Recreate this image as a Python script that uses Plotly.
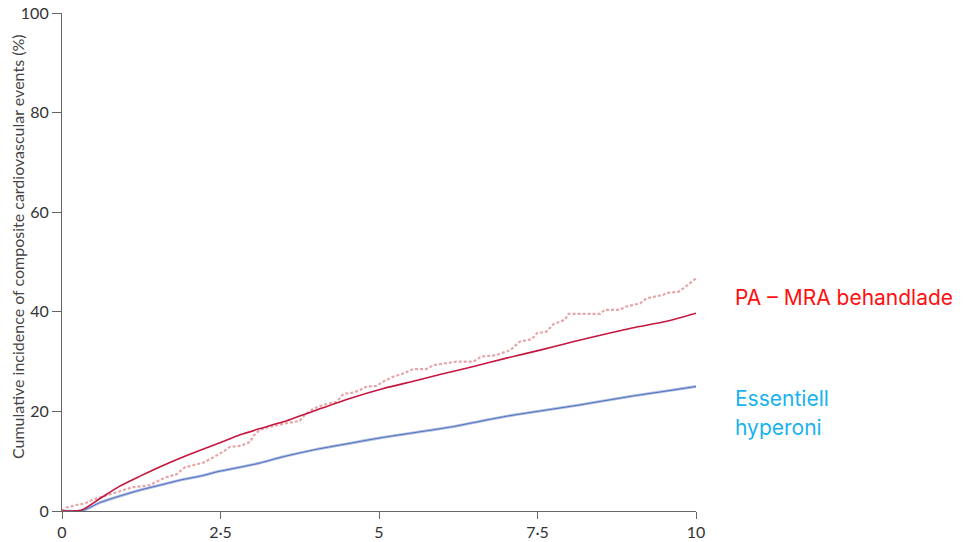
import plotly.graph_objects as go

# Years of follow-up and cumulative incidence (%) for each curve
pa_years = [0, 0.31, 0.6, 0.91, 1.23, 1.55, 1.86, 2.18, 2.49, 2.81, 3.11, 3.49, 4.02,
            4.54, 5.07, 5.59, 5.96, 6.49, 7.01, 7.54, 8.06, 8.59, 9.01, 9.54, 10.0]
pa_incidence = [0, 0.2, 2.5, 5.0, 7.0, 8.9, 10.6, 12.2, 13.7, 15.3, 16.5, 17.9, 20.3,
                22.6, 24.6, 26.2, 27.4, 29.0, 30.7, 32.3, 34.0, 35.6, 36.8, 38.1, 39.7]

eh_years = [0, 0.31, 0.6, 0.91, 1.23, 1.55, 1.86, 2.18, 2.49, 2.81, 3.11, 3.49, 4.02,
            4.54, 5.07, 5.59, 6.1, 7.0, 7.5, 8.17, 8.49, 9.01, 9.54, 10.0]
eh_incidence = [0, 0.0, 1.7, 3.0, 4.2, 5.2, 6.2, 7.0, 8.0, 8.8, 9.6, 10.9, 12.4,
                13.6, 14.8, 15.8, 16.8, 19.0, 20.0, 21.3, 22.0, 23.1, 24.1, 25.0]

km_years = [0, 0.07, 0.23, 0.36, 0.49, 0.65, 0.81, 0.97, 1.12, 1.28, 1.39, 1.49, 1.65,
            1.81, 1.94, 2.07, 2.23, 2.39, 2.54, 2.65, 2.83, 2.97, 3.02, 3.12, 3.28,
            3.49, 3.75, 3.83, 3.96, 4.12, 4.33, 4.44, 4.6, 4.7, 4.81, 4.96, 5.07,
            5.23, 5.38, 5.54, 5.75, 5.86, 5.96, 6.22, 6.49, 6.61, 6.85, 7.07, 7.22,
            7.41, 7.49, 7.64, 7.75, 7.93, 7.99, 8.49, 8.56, 8.8, 8.88, 9.12, 9.22,
            9.48, 9.54, 9.72, 9.8, 9.9, 10.0]
km_incidence = [0, 0.7, 1.2, 1.5, 2.3, 2.9, 3.6, 4.2, 4.8, 5.0, 5.2, 5.9, 6.8,
                7.4, 8.8, 9.2, 9.7, 10.8, 11.9, 12.9, 13.1, 13.9, 15.1, 16.3, 16.9,
                17.5, 18.1, 19.3, 20.5, 21.3, 21.9, 23.5, 23.8, 24.3, 25.0, 25.1, 26.0,
                27.0, 27.6, 28.5, 28.5, 29.3, 29.5, 30.0, 30.0, 31.0, 31.3, 32.3, 34.0,
                34.5, 35.7, 36.0, 37.5, 38.4, 39.6, 39.6, 40.4, 40.4, 41.0, 41.7, 42.7,
                43.4, 43.8, 44.0, 44.7, 45.7, 46.7]

x_ticks = [0, 2.5, 5, 7.5, 10]
x_tick_labels = ["0", "2·5", "5", "7·5", "10"]
y_ticks = [0, 20, 40, 60, 80, 100]

fig = go.Figure()

# Essential hypertension: soft blue halo with a darker core
fig.add_trace(go.Scatter(x=eh_years, y=eh_incidence, mode="lines",
                         line=dict(color="rgba(150,172,225,0.8)", width=2.8, shape="spline",
                                   smoothing=0.6),
                         hoverinfo="skip", showlegend=False))
fig.add_trace(go.Scatter(x=eh_years, y=eh_incidence, mode="lines",
                         line=dict(color="#5470b8", width=1.0, shape="spline", smoothing=0.6),
                         showlegend=False))

# Observed step curve, dotted
fig.add_trace(go.Scatter(x=km_years, y=km_incidence, mode="lines",
                         line=dict(color="#e8a5a8", width=2.2, dash="3px,2px"),
                         showlegend=False))

# PA treated with MRA
fig.add_trace(go.Scatter(x=pa_years, y=pa_incidence, mode="lines",
                         line=dict(color="#c5163f", width=1.6, shape="spline", smoothing=0.6),
                         showlegend=False))

axis_font = dict(family="Lato, 'Open Sans', sans-serif", size=16, color="#333333")

fig.update_layout(
    width=969, height=542,
    margin=dict(l=62, r=273, t=13, b=31),
    paper_bgcolor="white", plot_bgcolor="white",
    font=axis_font,
    xaxis=dict(range=[0, 10], tickvals=x_ticks, ticktext=x_tick_labels,
               showgrid=False, zeroline=False, showline=True, automargin=False,
               linecolor="#666666", linewidth=1.2,
               ticks="outside", ticklen=7, tickcolor="#666666", tickwidth=1.2,
               tickfont=axis_font),
    yaxis=dict(range=[0, 100], tickvals=y_ticks,
               showgrid=False, zeroline=False, showline=True, automargin=False,
               linecolor="#666666", linewidth=1.2,
               ticks="outside", ticklen=9, tickcolor="#666666", tickwidth=1.2,
               tickfont=axis_font),
)

# Vertical y-axis title
fig.add_annotation(xref="paper", yref="paper", x=-0.071, y=0.532,
                   xanchor="center", yanchor="middle", showarrow=False, textangle=-90,
                   text="Cumulative incidence of composite cardiovascular events (%)",
                   font=dict(family="Lato, 'Open Sans', sans-serif", size=16,
                             color="#444444"))

# Curve labels on the right
label_font = "Inter, 'Noto Sans', sans-serif"
fig.add_annotation(xref="paper", yref="paper", x=1.058, y=0.428,
                   xanchor="left", yanchor="middle", showarrow=False,
                   text="PA – MRA behandlade",
                   font=dict(family=label_font, size=21, color="#ff1010"))
fig.add_annotation(xref="paper", yref="paper", x=1.058, y=0.225,
                   xanchor="left", yanchor="middle", showarrow=False,
                   text="Essentiell",
                   font=dict(family=label_font, size=21, color="#19b2f0"))
fig.add_annotation(xref="paper", yref="paper", x=1.058, y=0.167,
                   xanchor="left", yanchor="middle", showarrow=False,
                   text="hyperoni",
                   font=dict(family=label_font, size=21, color="#19b2f0"))

fig.write_html("out.html")
